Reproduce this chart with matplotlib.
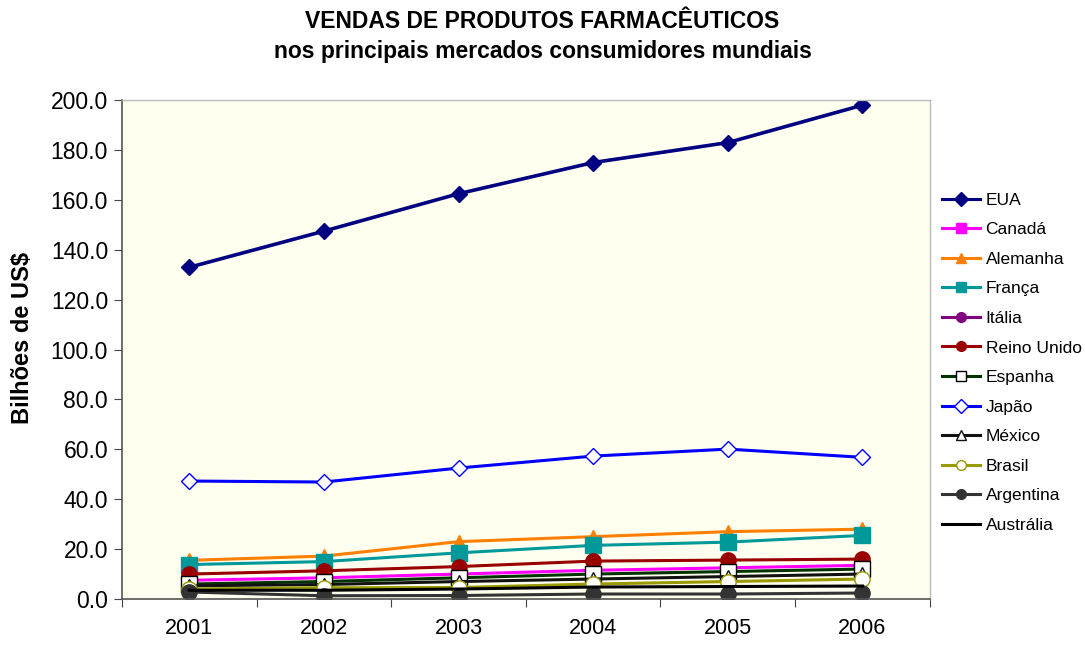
import matplotlib
matplotlib.use("Agg")
import matplotlib.pyplot as plt
import numpy as np

plt.rcParams['font.family'] = ['Liberation Sans', 'DejaVu Sans']

years = ["2001", "2002", "2003", "2004", "2005", "2006"]
eua = [133.0, 147.5, 162.5, 175.0, 183.0, 198.0]
canada = [7.5, 8.5, 10.0, 11.5, 12.5, 13.5]
alemanha = [15.5, 17.2, 23.0, 25.0, 27.0, 28.0]
franca = [13.8, 15.0, 18.5, 21.5, 22.8, 25.5]
italia = [np.nan] * 6
reino_unido = [10.0, 11.3, 13.0, 15.2, 15.6, 16.0]
espanha = [6.0, 7.0, 8.5, 10.0, 11.0, 12.0]
japao = [47.3, 46.9, 52.5, 57.3, 60.1, 56.8]
mexico = [5.3, 5.8, 7.0, 8.0, 9.0, 10.0]
brasil = [4.0, 4.5, 4.6, 6.0, 7.0, 8.0]
argentina = [2.8, 1.3, 1.4, 2.0, 2.0, 2.4]
australia = [3.5, 3.5, 4.0, 4.8, 5.0, 5.2]

series = [
    ("EUA", eua, dict(color="#000080", marker="D", mfc="#000080", mec="#000080", ms=8, lw=2.6)),
    ("Canadá", canada, dict(color="#FF00FF", marker="s", mfc="#FF00FF", mec="#FF00FF", ms=9, lw=2.2)),
    ("Alemanha", alemanha, dict(color="#FF7F00", marker="^", mfc="#FF7F00", mec="#FF7F00", ms=10, lw=2.2)),
    ("França", franca, dict(color="#009999", marker="s", mfc="#009999", mec="#009999", ms=11, lw=2.2)),
    ("Itália", italia, dict(color="#800080", marker="o", mfc="#800080", mec="#800080", ms=9, lw=2.2)),
    ("Reino Unido", reino_unido, dict(color="#990000", marker="o", mfc="#990000", mec="#990000", ms=11, lw=2.2)),
    ("Espanha", espanha, dict(color="#003300", marker="s", mfc="white", mec="black", ms=11, lw=2.2)),
    ("Japão", japao, dict(color="#0000FF", marker="D", mfc="white", mec="#0000FF", ms=8, lw=2.2)),
    ("México", mexico, dict(color="#111111", marker="^", mfc="white", mec="#111111", ms=10, lw=2.2)),
    ("Brasil", brasil, dict(color="#999900", marker="o", mfc="white", mec="#999900", ms=11, lw=2.2)),
    ("Argentina", argentina, dict(color="#333333", marker="o", mfc="#333333", mec="#333333", ms=11, lw=2.2)),
    ("Austrália", australia, dict(color="black", marker="None", lw=2.2)),
]

fig = plt.figure(figsize=(10.85, 6.68), dpi=100)
ax = fig.add_axes([0.1124, 0.1033, 0.7445, 0.7467])
ax.set_facecolor("#FFFFF0")

x = np.arange(len(years))
for name, vals, st in series:
    ax.plot(x, vals, label=name, **st)

ax.set_xlim(-0.5, len(years) - 0.5)
ax.set_ylim(0, 200)
ax.set_yticks(np.arange(0, 201, 20))
ax.set_yticklabels([f"{v:.1f}" for v in np.arange(0, 201, 20)], fontsize=16.5)
ax.set_xticks(np.arange(-0.5, len(years), 1.0))
ax.set_xticklabels([])
ax.set_xticks(x, minor=True)
ax.set_xticklabels(years, minor=True, fontsize=15.5)
ax.tick_params(axis="x", which="minor", length=0, pad=14)
ax.tick_params(axis="x", which="major", length=6, direction="out", color="#444444")
ax.tick_params(axis="y", length=6, direction="out", color="#444444", pad=4)

for s in ["left", "bottom"]:
    ax.spines[s].set_color("#555555")
    ax.spines[s].set_linewidth(1.2)
for s in ["top", "right"]:
    ax.spines[s].set_color("#BBBBBB")
    ax.spines[s].set_linewidth(1.0)

fig.text(0.021, 0.494, "Bilhões de US$", rotation=90, ha="center", va="center",
         fontsize=17, fontweight="bold")

fig.text(0.5, 0.968, "VENDAS DE PRODUTOS FARMACÊUTICOS", ha="center", va="center",
         fontsize=16.5, fontweight="bold")
fig.text(0.5, 0.923, "nos principais mercados consumidores mundiais", ha="center", va="center",
         fontsize=16.5, fontweight="bold")

leg = fig.legend(loc="center left", bbox_to_anchor=(0.862, 0.457), frameon=False,
                 fontsize=12.5, handlelength=2.2, handletextpad=0.3, labelspacing=0.83,
                 borderaxespad=0)
for h in leg.legend_handles:
    h.set_markersize(7)
    h.set_linewidth(2.2)

fig.savefig("out.png", dpi=100)
